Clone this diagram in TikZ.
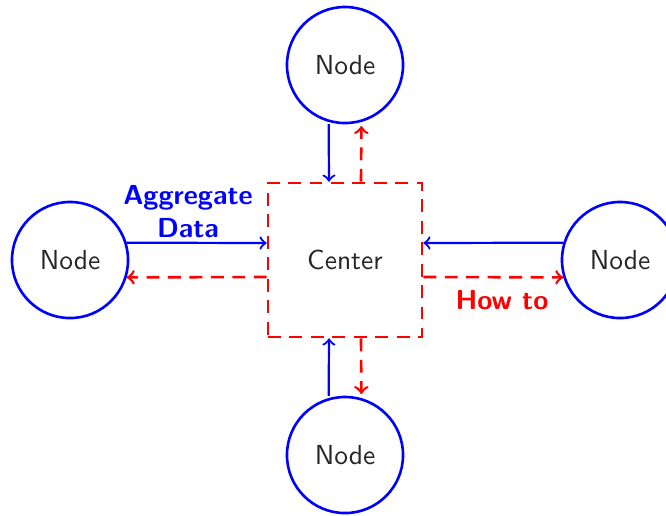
\documentclass[tikz,border=0pt]{standalone}
\usetikzlibrary{calc}
\begin{document}
\begin{tikzpicture}[x=0.3636pt,y=-0.3636pt,
  font=\sffamily,
  peer/.style={circle,draw=blue,line width=0.95pt,minimum size=42.2pt,inner sep=0pt,text=black!85},
  hub/.style={rectangle,draw=red,line width=0.95pt,dash pattern=on 4.7pt off 3.1pt,minimum size=56pt,inner sep=0pt,text=black!85},
  feed/.style={->,blue,line width=0.8pt},
  back/.style={->,red,line width=0.95pt,dash pattern=on 4.7pt off 3.1pt},
  lbl/.style={font=\sffamily\bfseries,align=center}]
\useasboundingbox (0,0) rectangle (666,515);
\node[hub] (C) at (345,260) {Center};
\node[peer] (T) at (345,65) {Node};
\node[peer] (B) at (345,455) {Node};
\node[peer] (L) at (70,260) {Node};
\node[peer] (R) at (620,260) {Node};
% blue arrows into the centre
\draw[feed] (L.17) -- ($(C.west)+(0,-17)$);
\draw[feed] (R.163) -- ($(C.east)+(0,-17)$);
\draw[feed] ($(T.254)+(0,2)$) -- ($(C.north)+(-16,0)$);
\draw[feed] ($(B.106)+(0,-2)$) -- ($(C.south)+(-16,0)$);
% red dashed arrows out of the centre
\draw[back] ($(C.west)+(0,17)$) -- (L.-17);
\draw[back] ($(C.east)+(0,17)$) -- (R.197);
\draw[back] ($(C.north)+(16,0)$) -- ($(T.286)+(0,4)$);
\draw[back] ($(C.south)+(16,0)$) -- ($(B.74)+(0,-4)$);
% labels
\node[lbl,blue] (agg) at (188,212) {Aggregate\\Data};
\node[lbl,red] (how) at (502,300) {How to};
\end{tikzpicture}
\end{document}
